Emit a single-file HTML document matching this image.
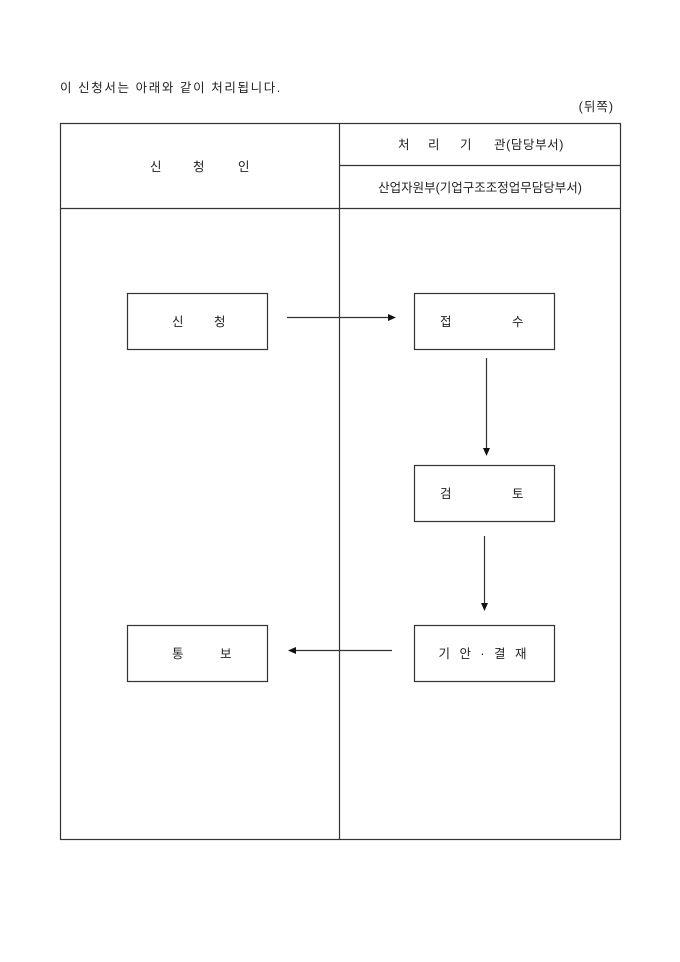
<!DOCTYPE html>
<html><head><meta charset="utf-8"><style>
html,body{margin:0;padding:0;background:#fff;}
svg{display:block;}
text{font-family:"Liberation Sans","Noto Sans CJK KR","NanumGothic",sans-serif;font-size:12.5px;fill:#222;}
</style></head><body>
<svg width="680" height="962" viewBox="0 0 680 962" xmlns="http://www.w3.org/2000/svg">
<text x="60" y="92" letter-spacing="1.6">이 신청서는 아래와 같이 처리됩니다.</text>
<text x="614" y="111" text-anchor="end" letter-spacing="1">(뒤쪽)</text>
<g stroke="#333" stroke-width="1.2" fill="none">
<rect x="60.5" y="123.5" width="560" height="716"/>
<line x1="339.5" y1="123" x2="339.5" y2="840"/>
<line x1="339" y1="165.5" x2="621" y2="165.5"/>
<line x1="60" y1="208.5" x2="621" y2="208.5"/>
<rect x="127.5" y="293.5" width="140" height="56"/>
<rect x="414.5" y="293.5" width="140" height="56"/>
<rect x="414.5" y="465.5" width="140" height="56"/>
<rect x="414.5" y="625.5" width="140" height="56"/>
<rect x="127.5" y="625.5" width="140" height="56"/>
<line x1="287" y1="317.5" x2="390" y2="317.5"/>
<line x1="486.5" y1="358" x2="486.5" y2="450"/>
<line x1="484.5" y1="536" x2="484.5" y2="605"/>
<line x1="392" y1="650.5" x2="294" y2="650.5"/>
</g>
<g fill="#111">
<polygon points="396,317.5 388,314 388,321"/>
<polygon points="486.5,456 483,448 490,448"/>
<polygon points="484.5,611 481,603 488,603"/>
<polygon points="288,650.5 296,647 296,654"/>
</g>
<text x="150" y="171">신</text><text x="193" y="171">청</text><text x="238" y="171">인</text>
<text x="398" y="149">처</text><text x="428" y="149">리</text><text x="460" y="149">기</text><text x="494" y="149" letter-spacing="0.6">관(담당부서)</text>
<text x="480" y="192" text-anchor="middle">산업자원부(기업구조조정업무담당부서)</text>
<text x="172" y="326">신</text><text x="214" y="326">청</text>
<text x="440" y="326">접</text><text x="512" y="326">수</text>
<text x="440" y="498">검</text><text x="512" y="498">토</text>
<text x="172" y="658">통</text><text x="220" y="658">보</text>
<text x="484" y="658" text-anchor="middle" letter-spacing="3">기 안 · 결 재</text>
</svg>
</body></html>
